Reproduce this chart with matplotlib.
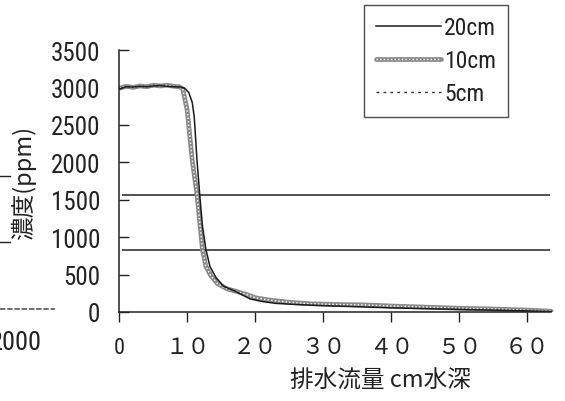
import matplotlib.pyplot as plt
from matplotlib import font_manager
from matplotlib.lines import Line2D
from matplotlib.legend_handler import HandlerTuple

# narrow sans for the numbers when available
installed = {f.name for f in font_manager.fontManager.ttflist}
num_font = 'Liberation Sans'
for cand in ['Liberation Sans Narrow', 'Roboto Condensed', 'Open Sans Condensed']:
    if cand in installed:
        num_font = cand
        break
narrow = num_font != 'Liberation Sans'

plt.rcParams['font.family'] = [num_font, 'Noto Sans CJK JP', 'DejaVu Sans']

# 排水流量 (cm水深) vs 濃度 (ppm)
x20 = [0, 1, 2, 3, 4, 5, 6, 7, 8, 9, 9.6, 10.2, 10.7, 11.0, 11.4, 11.8, 12.2, 12.7, 13.3,
       14.2, 15.3, 17.3, 19.2, 21, 23, 26, 30, 35, 40, 45, 50, 55, 60, 63.5]
y20 = [2980, 3010, 3005, 3015, 3010, 3020, 3025, 3015, 3010, 3005, 2990, 2930, 2800, 2600,
       2030, 1570, 1150, 840, 610, 460, 345, 265, 175, 140, 115, 100, 85, 70, 55, 45, 35, 25, 15, 5]

x10 = [0, 1, 2, 3, 4, 5, 6, 7, 8, 8.8, 9.3, 9.95, 10.7, 11.4, 12.2, 12.7, 13.4, 14.4, 15.8,
       17, 18.5, 20, 22, 25, 28, 32, 36, 40, 45, 50, 55, 60, 63.5]
y10 = [2990, 3015, 3000, 3020, 3010, 3030, 3020, 3030, 3015, 3010, 2980, 2700, 2030, 1570,
       840, 610, 490, 380, 310, 280, 240, 190, 160, 130, 110, 100, 95, 80, 65, 50, 40, 25, 10]

x5 = [0, 2, 4, 6, 8, 9, 9.6, 10.2, 10.9, 11.6, 12.3, 12.9, 13.6, 14.6, 16, 18, 20, 24,
      30, 36, 42, 50, 56, 63]
y5 = [2990, 3005, 3015, 3020, 3015, 3005, 2940, 2650, 2000, 1500, 860, 620, 500, 400, 320,
      250, 180, 130, 95, 80, 60, 40, 30, 10]

ref_levels = [1560, 828]
xticks = [0, 10, 20, 30, 40, 50, 60]
xlabels = ['0', '１０', '２０', '３０', '４０', '５０', '６０']
yticks = [0, 500, 1000, 1500, 2000, 2500, 3000, 3500]

ink = '#222222'
num_size = 18 if narrow else 15.5
leg_size = 17 if narrow else 14.5

fig = plt.figure(figsize=(5.65, 4.02), dpi=100)
ax = fig.add_axes([0.2115, 0.2214, 0.782, 0.6517])

ax.hlines(ref_levels, 0.4, 63.3, color='#333333', lw=1.2)

l5, = ax.plot(x5, y5, color='#333333', lw=1.0, ls=(0, (2, 3)))
l10a, = ax.plot(x10, y10, color='#8a8a8a', lw=3.4, solid_capstyle='round')
l10b, = ax.plot(x10, y10, color='white', lw=1.0, ls=(0, (1, 1.6)))
l20, = ax.plot(x20, y20, color='#1a1a1a', lw=1.1)

ax.set_xlim(0, 65)
ax.set_ylim(0, 3500)
ax.set_xticks(xticks)
ax.set_xticklabels(xlabels, fontsize=16, color=ink)
ax.set_yticks(yticks)
ax.set_yticklabels([str(v) for v in yticks], fontsize=num_size, color=ink)
ax.tick_params(axis='y', direction='in', length=7, width=1, pad=14, colors=ink)
ax.tick_params(axis='x', direction='out', length=7, width=1, pad=11, colors=ink)
for s in ['top', 'right']:
    ax.spines[s].set_visible(False)
for s in ['left', 'bottom']:
    ax.spines[s].set_color(ink)
    ax.spines[s].set_linewidth(1.1)
ax.spines['bottom'].set_bounds(0, 63.5)

ax.set_xlabel('排水流量 cm水深', fontsize=17, color=ink,
              family=['Noto Sans CJK JP'])
ax.xaxis.set_label_coords(0.59, -0.215)
ax.xaxis.label.set_va('top')

fig.text(0.041, 0.545, '濃度(ppm)', rotation=90, fontsize=17, color=ink,
         family=['Noto Sans CJK JP'], ha='center', va='center')

leg = fig.legend([l20, (l10a, l10b), l5], ['20cm', '10cm', '5cm'],
                 handler_map={tuple: HandlerTuple(ndivide=1)},
                 loc='upper right', bbox_to_anchor=(0.899, 0.986),
                 borderaxespad=0, fontsize=leg_size, handlelength=2.75,
                 labelspacing=0.42, handletextpad=0.15, borderpad=0.5,
                 fancybox=False, frameon=True, edgecolor=ink)
leg.get_frame().set_linewidth(1.0)
for t in leg.get_texts():
    t.set_color(ink)

# fragments of the neighbouring panel on the left edge
fig.add_artist(Line2D([0, 55 / 565], [1 - 310 / 402] * 2, color='#666666', lw=1.3,
                      ls=(0, (3, 1))))
fig.add_artist(Line2D([0, 10 / 565], [1 - 177 / 402] * 2, color=ink, lw=1.0))
fig.add_artist(Line2D([0, 10 / 565], [1 - 243 / 402] * 2, color=ink, lw=1.0))
fig.text(42 / 565, 1 - 343 / 402, '2000', fontsize=num_size + 1, color=ink,
         ha='right', va='center')

fig.savefig('out.png', dpi=100)
